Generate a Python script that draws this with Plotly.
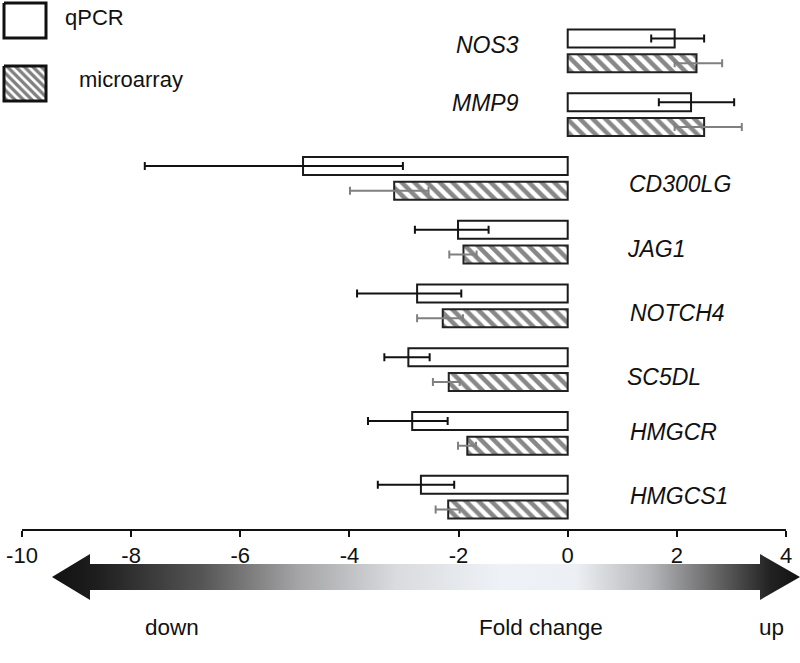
import plotly.graph_objects as go

# ---------------- data ----------------
genes = ["NOS3", "MMP9", "CD300LG", "JAG1", "NOTCH4", "SC5DL", "HMGCR", "HMGCS1"]
qpcr = [1.96, 2.26, -4.85, -2.01, -2.76, -2.92, -2.85, -2.69]
qpcr_lo = [1.53, 1.67, -7.75, -2.80, -3.86, -3.36, -3.66, -3.48]
qpcr_hi = [2.50, 3.05, -3.02, -1.45, -1.95, -2.53, -2.20, -2.08]
micro = [2.36, 2.50, -3.18, -1.91, -2.29, -2.18, -1.84, -2.19]
micro_lo = [1.96, 1.96, -3.99, -2.17, -2.76, -2.47, -2.01, -2.42]
micro_hi = [2.83, 3.19, -2.55, -1.67, -1.92, -1.98, -1.68, -1.98]
x_ticks = [-10, -8, -6, -4, -2, 0, 2, 4]
legend_names = ["qPCR", "microarray"]
arrow_labels = ["down", "Fold change", "up"]

# ---------------- style / layout helpers ----------------
W, H = 800, 663
FONT = "Liberation Sans, Arial, Helvetica, sans-serif"

# label placement (x in data units, y offset in px)
label_x = [-0.86, -0.86, 1.08, 1.05, 1.1, 1.05, 1.1, 1.1]
label_anchor = ["right", "right", "left", "left", "left", "left", "left", "left"]
label_yshift = [6, 12, -6, -7, -7, -7, 1, 1]

fig = go.Figure()

fig.add_trace(go.Bar(
    name="qPCR", y=genes, x=qpcr, orientation="h",
    marker=dict(color="white", line=dict(color="#1a1a1a", width=2)),
    error_x=dict(type="data", symmetric=False,
                 array=[h - v for h, v in zip(qpcr_hi, qpcr)],
                 arrayminus=[v - l for v, l in zip(qpcr, qpcr_lo)],
                 color="#111111", thickness=2, width=4),
    showlegend=False, xaxis="x", yaxis="y",
))
fig.add_trace(go.Bar(
    name="microarray", y=genes, x=micro, orientation="h",
    marker=dict(color="white", line=dict(color="#222222", width=2),
                pattern=dict(shape="\\", fgcolor="#111111", bgcolor="white",
                             size=9, solidity=0.5)),
    error_x=dict(type="data", symmetric=False,
                 array=[h - v for h, v in zip(micro_hi, micro)],
                 arrayminus=[v - l for v, l in zip(micro, micro_lo)],
                 color="#808080", thickness=2, width=4),
    showlegend=False, xaxis="x", yaxis="y",
))

# ---------------- decoration on a pixel-space overlay ----------------
# legend swatches
fig.add_trace(go.Scatter(
    x=[4, 46, 46, 4, 4], y=[3, 3, 38, 38, 3], mode="lines", fill="toself",
    fillcolor="white", line=dict(color="#111111", width=3),
    hoverinfo="skip", showlegend=False, xaxis="x3", yaxis="y3"))
fig.add_trace(go.Scatter(
    x=[4, 46, 46, 4, 4], y=[66, 66, 101, 101, 66], mode="lines", fill="toself",
    fillcolor="white",
    fillpattern=dict(shape="\\", fgcolor="#000000", bgcolor="white", size=6, solidity=0.55),
    line=dict(color="#111111", width=3),
    hoverinfo="skip", showlegend=False, xaxis="x3", yaxis="y3"))

# gradient double arrow
ay = 577
bh = 13
hh = 23
ax = [52, 90, 90, 760, 760, 800, 760, 760, 90, 90, 52]
ayy = [ay, ay - hh, ay - bh, ay - bh, ay - hh, ay, ay + hh, ay + bh, ay + bh, ay + hh, ay]
fig.add_trace(go.Scatter(
    x=ax, y=ayy, mode="lines", fill="toself", line=dict(width=0, color="rgba(0,0,0,0)"),
    fillgradient=dict(type="horizontal", start=52, stop=800,
                      colorscale=[[0.0, "#111111"], [0.06, "#1e1e1e"], [0.2, "#555555"],
                                  [0.33, "#a5a5a7"], [0.46, "#d9dbde"], [0.6, "#eef2f6"],
                                  [0.7, "#eceff3"], [0.8, "#b5b6b9"], [0.9, "#5a5a5a"],
                                  [0.96, "#222222"], [1.0, "#111111"]]),
    hoverinfo="skip", showlegend=False, xaxis="x3", yaxis="y3"))

annotations = []
for g, lx, anc, ys in zip(genes, label_x, label_anchor, label_yshift):
    annotations.append(dict(x=lx, y=g, xref="x", yref="y", text="<i>" + g + "</i>",
                            showarrow=False, xanchor=anc, yanchor="middle", yshift=ys,
                            font=dict(family=FONT, size=23, color="#111111")))

leg_pos = [(63, 17), (77, 79)]
for name, (lx, ly) in zip(legend_names, leg_pos):
    annotations.append(dict(x=lx, y=ly, xref="x3", yref="y3", text=name, showarrow=False,
                            xanchor="left", yanchor="middle",
                            font=dict(family=FONT, size=22, color="#111111")))
arrow_text_pos = [172, 541, 771]
for t, tx in zip(arrow_labels, arrow_text_pos):
    annotations.append(dict(x=tx, y=627, xref="x3", yref="y3", text=t, showarrow=False,
                            xanchor="center", yanchor="middle",
                            font=dict(family=FONT, size=22.5, color="#111111")))

fig.update_layout(
    width=W, height=H,
    margin=dict(l=0, r=0, t=0, b=0, autoexpand=False),
    paper_bgcolor="white", plot_bgcolor="rgba(0,0,0,0)",
    barmode="group", bargap=0.22, bargroupgap=0.28,
    showlegend=False,
    xaxis=dict(domain=[22 / W, 786 / W], range=[-10, 4], anchor="y",
               showline=True, linecolor="#111111", linewidth=2,
               ticks="outside", ticklen=6, tickwidth=2, tickcolor="#111111",
               tickvals=x_ticks, ticktext=[str(v) for v in x_ticks],
               tickfont=dict(family=FONT, size=22, color="#111111"),
               showgrid=False, zeroline=False, fixedrange=True, automargin=False),
    yaxis=dict(domain=[1 - 529 / H, 1 - 19 / H], anchor="x",
               categoryorder="array", categoryarray=genes, autorange="reversed",
               visible=False, fixedrange=True),
    xaxis3=dict(domain=[0, 1], range=[0, W], anchor="y3", visible=False, fixedrange=True),
    yaxis3=dict(domain=[0, 1], range=[H, 0], anchor="x3", visible=False, fixedrange=True),
    annotations=annotations,
)

fig.write_html(
    "out.html",
    config={"displayModeBar": False},
    post_script="document.body.style.margin='0';document.body.style.overflow='hidden';"
                "document.documentElement.style.overflow='hidden';",
)
